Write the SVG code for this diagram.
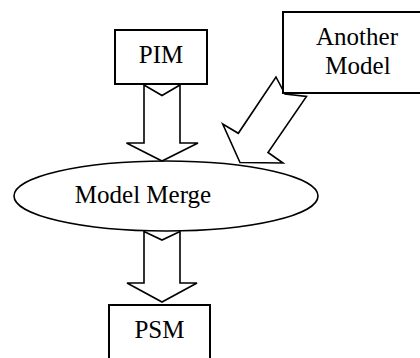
<svg xmlns="http://www.w3.org/2000/svg" width="420" height="358" viewBox="0 0 420 358">
<style>
.box{fill:#fff;stroke:#000;stroke-width:2}
.arr{fill:#fff;stroke:#000;stroke-width:1.6;stroke-linejoin:miter}
.lbl{font-family:"Liberation Serif","Times New Roman",serif;font-size:25px;fill:#000;text-anchor:middle}
</style>
<rect width="420" height="358" fill="#fff"/>
<g id="connectors">
<polygon class="arr" points="144,85 162,95.5 180,85 180,143 198,143 162,161 126.5,143 144,143"/>
<polygon class="arr" points="276,77 285,94 306.5,96.5 268,152.5 283,163 240,162.5 222.7,124 238.3,133.3"/>
<polygon class="arr" points="144,231.5 162,240 180,231.5 180,283 197,283 162,302 127,283 144,283"/>
</g>
<g id="pim">
<rect class="box" x="115" y="30" width="92" height="54"/>
<text class="lbl" x="161" y="63">PIM</text>
</g>
<g id="another">
<rect class="box" x="283" y="12" width="145" height="81"/>
<text class="lbl" x="357" y="45">Another</text>
<text class="lbl" x="358" y="74">Model</text>
</g>
<g id="merge">
<ellipse fill="none" stroke="#000" stroke-width="1.6" cx="166" cy="196" rx="152" ry="35"/>
<text class="lbl" x="143" y="203">Model Merge</text>
</g>
<g id="psm">
<rect class="box" x="109" y="305" width="101" height="60"/>
<text class="lbl" x="159.5" y="338">PSM</text>
</g>
</svg>
